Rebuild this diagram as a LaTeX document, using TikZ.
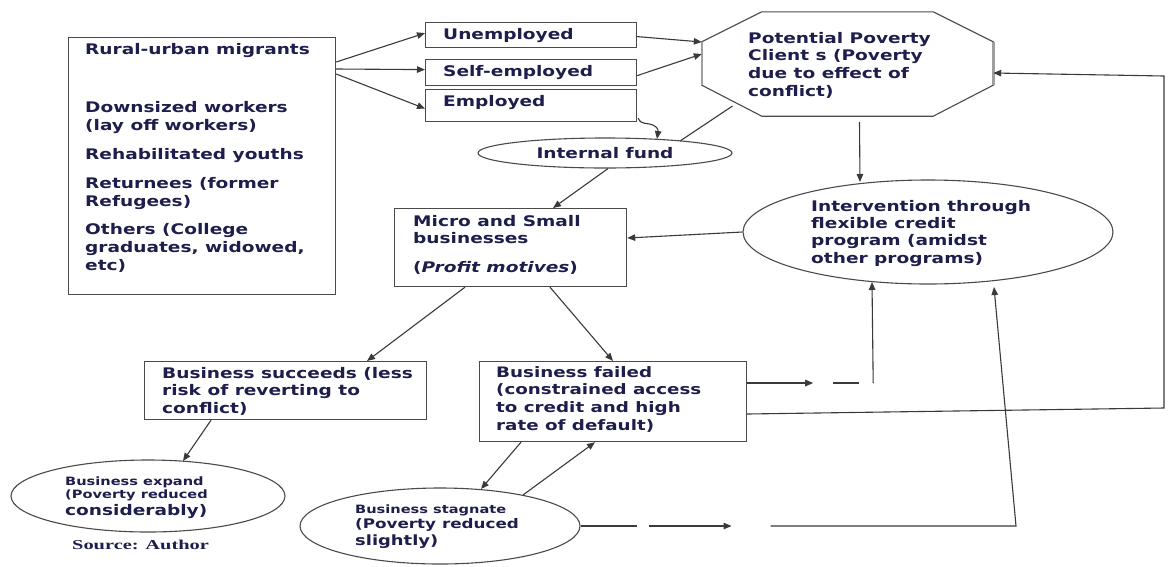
\documentclass[tikz,border=0pt]{standalone}
\usepackage{fontspec}
\usetikzlibrary{calc,arrows.meta,shapes.geometric}
\newfontfamily\dvf[FakeStretch=1.27]{DejaVu Sans}
\newfontfamily\srcf[FakeStretch=1.5]{Liberation Serif}
\definecolor{txt}{HTML}{1E1E4C}
\definecolor{lnc}{HTML}{3A3A3A}
\definecolor{frc}{HTML}{4A4A4A}
\tikzset{
  frame/.style={draw=frc, line width=1.2pt, inner sep=0pt, anchor=north west},
  ell/.style={draw=frc, line width=1.1pt, ellipse, inner sep=0pt},
  lnk/.style={draw=lnc, line width=1.1pt},
  arr/.style={lnk, -{Triangle[length=8pt,width=6.5pt]}},
  tx/.style={anchor=north west, inner sep=0pt, text=txt, align=left,
    font=\dvf\bfseries\fontsize{14.6}{17.7}\selectfont},
}
\begin{document}
\begin{tikzpicture}[x=1pt,y=-1pt]
\fill[white] (0,0) rectangle (1168,566);
\useasboundingbox (0,0) rectangle (1168,566);

% frames
\node[frame, minimum width=267pt, minimum height=257pt] (left) at (68,37) {};
\node[frame, minimum width=211pt, minimum height=25pt] (un) at (425,22) {};
\node[frame, minimum width=211pt, minimum height=26pt] (se) at (425,59) {};
\node[frame, minimum width=211pt, minimum height=32pt] (em) at (425,89) {};
\node[frame, minimum width=232pt, minimum height=78pt] (micro) at (394,208) {};
\node[frame, minimum width=282pt, minimum height=58pt] (succ) at (144,361) {};
\node[frame, minimum width=267pt, minimum height=80pt] (fail) at (479,361) {};

% octagon
\node[minimum width=291pt, minimum height=104pt, inner sep=0pt] (oct) at (847.5,64) {};
\draw[draw=frc, line width=1.1pt]
  ($(oct.north west)+(60,0)$) -- ($(oct.north east)+(-60,0)$) -- ($(oct.north east)+(0,30)$)
  -- ($(oct.south east)+(0,-31)$) -- ($(oct.south east)+(-60,0)$) -- ($(oct.south west)+(60,0)$)
  -- ($(oct.south west)+(0,-31)$) -- ($(oct.north west)+(0,30)$) -- cycle;
\draw[draw=gray!75, line width=2.6pt] ($(oct.north west)+(0,30)$) -- ($(oct.south west)+(0,-31)$);
\draw[draw=gray!75, line width=2.6pt] ($(oct.north east)+(0,30)$) -- ($(oct.south east)+(0,-31)$);

% ellipses
\node[ell, minimum width=254pt, minimum height=30pt, text=txt,
      font=\dvf\bfseries\fontsize{14.6}{17.7}\selectfont] (fund) at (605,153) {Internal fund};
\node[ell, minimum width=370pt, minimum height=104pt] (int) at (928,232) {};
\node[ell, minimum width=274pt, minimum height=72pt] (exp) at (148,496) {};
\node[ell, minimum width=280pt, minimum height=76pt] (stag) at (440,526) {};

% texts
\node[tx, font=\dvf\bfseries\fontsize{14.6}{18}\selectfont] (leftT) at (85,43)
  {Rural-urban migrants\\[40pt]Downsized workers\\(lay off workers)\\[11pt]Rehabilitated youths\\[11pt]Returnees (former\\Refugees)\\[10pt]Others (College\\graduates, widowed,\\etc)};
\node[tx] (unT) at (443,28) {Unemployed};
\node[tx] (seT) at (443,65) {Self-employed};
\node[tx] (emT) at (443,95) {Employed};
\node[tx] (octT) at (748,32) {Potential Poverty\\Client s (Poverty\\due to effect of\\conflict)};
\node[tx, font=\dvf\bfseries\fontsize{14.6}{17.3}\selectfont] (intT) at (811,200)
  {Intervention through\\flexible credit\\program (amidst\\other programs)};
\node[tx, font=\dvf\bfseries\fontsize{14.6}{17.5}\selectfont] (microT) at (413,215)
  {Micro and Small\\businesses\\[11.5pt](\textit{Profit motives})};
\node[tx, font=\dvf\bfseries\fontsize{14.6}{17.5}\selectfont] (succT) at (162,367)
  {Business succeeds (less\\risk of reverting to\\conflict)};
\node[tx, font=\dvf\bfseries\fontsize{14.4}{17.7}\selectfont] (failT) at (496,366)
  {Business failed\\(constrained access\\to credit and high\\rate of default)};
\node[tx, font=\dvf\bfseries\fontsize{11.5}{13}\selectfont] (expT) at (65,477)
  {Business expand\\(Poverty reduced\\[2pt]{\fontsize{14.6}{17}\selectfont considerably)}};
\node[tx, font=\dvf\bfseries\fontsize{11.5}{15}\selectfont] (stagT) at (355,505)
  {Business stagnate\\{\fontsize{13.2}{16}\selectfont (Poverty reduced}\\[2pt]{\fontsize{14.1}{17}\selectfont slightly)}};
\node[anchor=west, inner sep=0pt, text=txt, font=\srcf\bfseries\fontsize{13.6}{15}\selectfont] (src) at (72,545) {Source: Author};

% helper coordinates
\coordinate (r1) at (1164,408);
\coordinate (r2) at (1164,76);
\coordinate (r3) at (1016,526);

% connectors
\draw[arr] ($(left.north east)+(0,25)$) -- ($(un.west)+(0,-2)$);
\draw[arr] ($(left.north east)+(0,32)$) -- ($(se.west)+(0,-3)$);
\draw[arr] ($(left.north east)+(0,37)$) -- ($(em.west)+(0,3)$);
\draw[arr] ($(un.east)+(0,1.5)$) -- ($(oct.west)+(0,-22)$);
\draw[arr] ($(se.east)+(0,3)$) -- ($(oct.west)+(0,-10)$);
\draw[arr] ($(em.south east)+(1,-4)$) .. controls ($(em.south east)+(4,3)$) and ($(em.south east)+(9,0)$) .. ($(em.south east)+(16,3)$)
  .. controls ($(em.south east)+(21,5)$) and ($(em.south east)+(21,9)$) .. ($(fund.center)+(52,-14)$);
\draw[lnk] ($(fund.center)+(75,-12)$) -- ($(oct.center)+(-115,42)$);
\draw[arr] ($(fund.south)+(3,0)$) -- ($(micro.north west)+(159,0)$);
\draw[arr] ($(oct.south)+(12,6)$) -- ($(int.center)+(-68,-50)$);
\draw[arr] (int.west) -- ($(micro.north east)+(0,30)$);
\draw[arr] ($(micro.south west)+(71,0)$) -- ($(succ.north west)+(223,0)$);
\draw[arr] ($(micro.south west)+(156,0)$) -- ($(fail.north west)+(134,0)$);
\draw[arr] ($(succ.south west)+(67,0)$) -- ($(exp.center)+(35,-35)$);
\draw[arr] ($(fail.south west)+(42,0)$) -- ($(stag.center)+(41,-37)$);
\draw[arr] ($(stag.center)+(83,-31)$) -- ($(fail.south west)+(116,0)$);

\coordinate (fa) at ($(fail.north east)+(0,22)$);
\draw[arr] (fa) -- ($(fa)+(66,0)$);
\draw[lnk] ($(fa)+(86,0)$) -- ($(fa)+(112,0)$);
\draw[arr] ($(fa)+(126,0)$) -- ($(int.center)+(-56,50)$);

\draw[arr] ($(fail.north east)+(0,53)$) -- (r1) -- (r2) -- ($(oct.east)+(0,9)$);

\draw[lnk] (stag.east) -- ($(stag.east)+(56,0)$);
\draw[arr] ($(stag.east)+(68,0)$) -- ($(stag.east)+(151,0)$);
\draw[arr] ($(stag.east)+(190,0)$) -- (r3) -- ($(int.center)+(66,55)$);
\end{tikzpicture}
\end{document}
